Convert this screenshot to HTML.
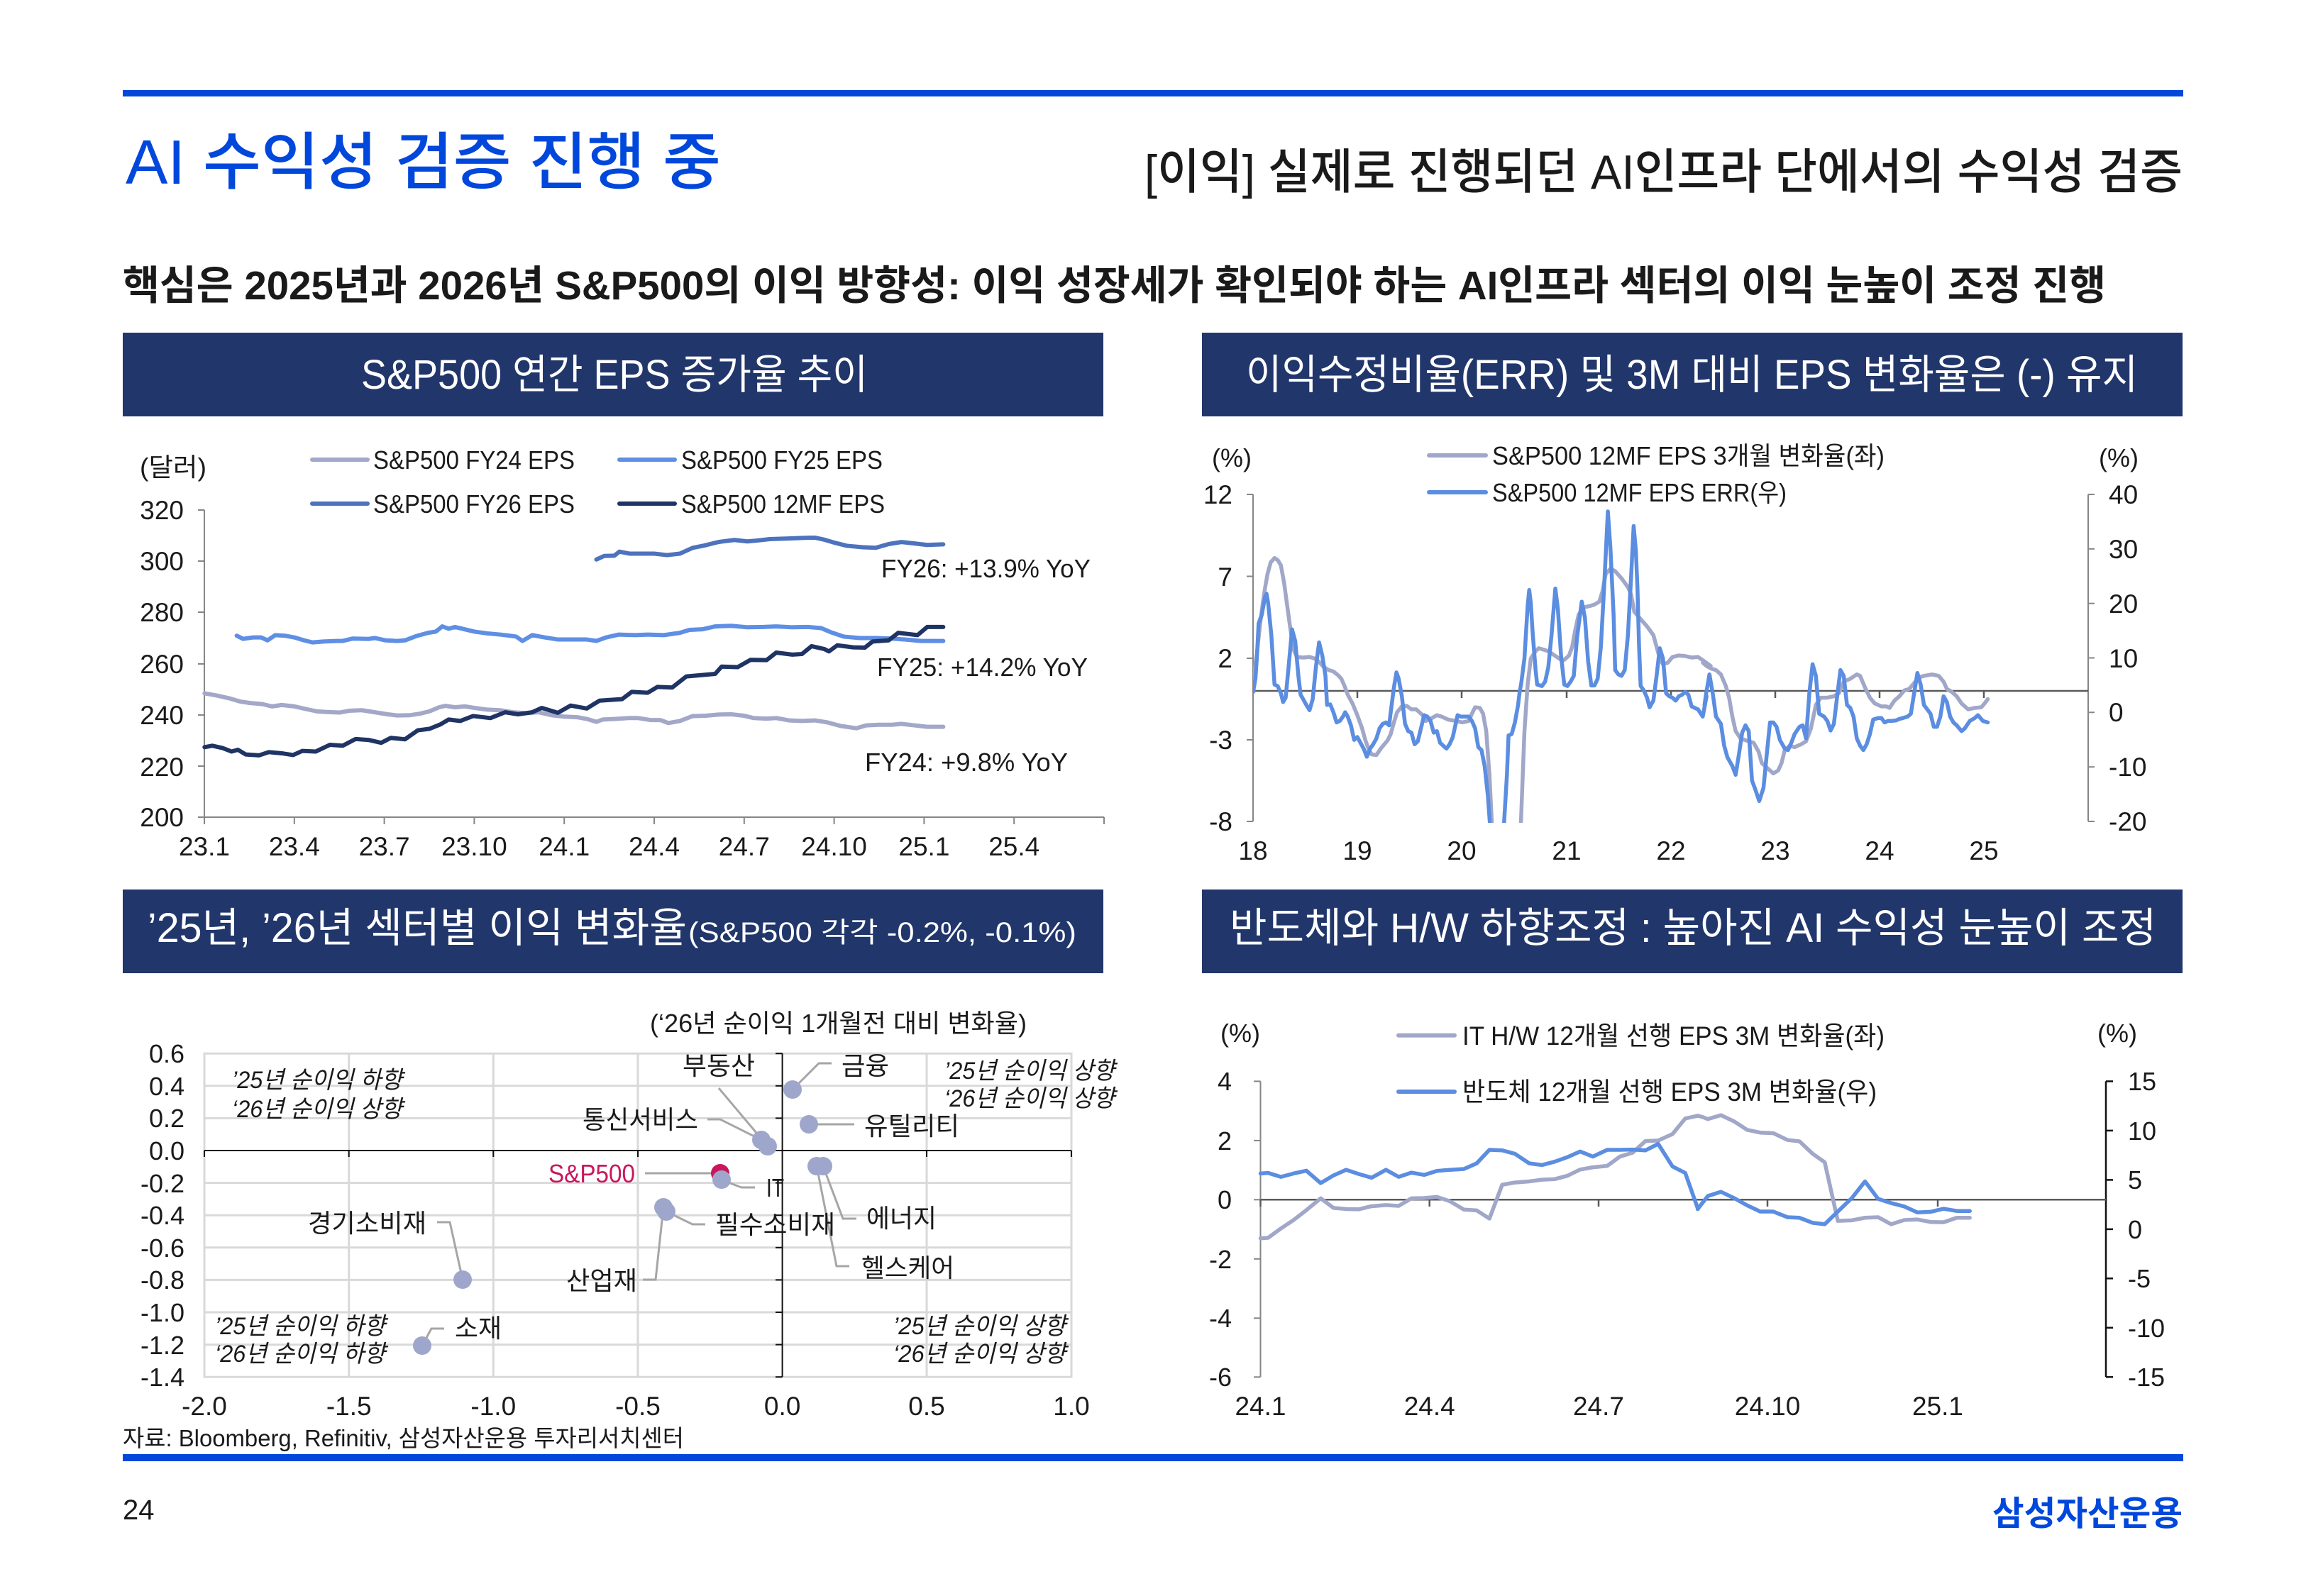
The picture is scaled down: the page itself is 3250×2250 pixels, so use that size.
<!DOCTYPE html>
<html><head><meta charset="utf-8">
<style>
html,body{margin:0;padding:0;background:#fff;}
svg{display:block;}
text{font-family:"Liberation Sans","Noto Sans CJK KR",sans-serif;fill:#1a1a1a;}
.w{fill:#fff;}
.t37{font-size:37px;}
.t36{font-size:36px;}
.ser{fill:none;stroke-linejoin:round;stroke-linecap:round;}
</style></head>
<body>
<svg width="3250" height="2250" viewBox="0 0 3250 2250" xmlns="http://www.w3.org/2000/svg">
<rect x="0" y="0" width="3250" height="2250" fill="#fff"/>
<defs>
<clipPath id="c1"><rect x="1766" y="660" width="1180" height="500"/></clipPath>
</defs>

<!-- Header -->
<rect x="173" y="127" width="2904" height="9" fill="#0047dc"/>
<text x="177" y="259" font-size="88" font-weight="500" style="fill:#0047dc" textLength="839" lengthAdjust="spacingAndGlyphs">AI 수익성 검증 진행 중</text>
<text x="1613" y="266" font-size="68" font-weight="500" textLength="1463" lengthAdjust="spacingAndGlyphs">[이익] 실제로 진행되던 AI인프라 단에서의 수익성 검증</text>
<text x="173" y="422" font-size="57" font-weight="bold" textLength="2795" lengthAdjust="spacingAndGlyphs">핵심은 2025년과 2026년 S&amp;P500의 이익 방향성: 이익 성장세가 확인되야 하는 AI인프라 섹터의 이익 눈높이 조정 진행</text>

<!-- Section header boxes -->
<rect x="173" y="469" width="1382" height="118" fill="#21366b"/>
<text class="w" x="509" y="548" font-size="58" textLength="714" lengthAdjust="spacingAndGlyphs">S&amp;P500 연간 EPS 증가율 추이</text>
<rect x="1694" y="469" width="1382" height="118" fill="#21366b"/>
<text class="w" x="1756" y="548" font-size="58" textLength="1257" lengthAdjust="spacingAndGlyphs">이익수정비율(ERR) 및 3M 대비 EPS 변화율은 (-) 유지</text>
<rect x="173" y="1254" width="1382" height="118" fill="#21366b"/>
<text class="w" x="208" y="1328" font-size="58" textLength="760" lengthAdjust="spacingAndGlyphs">’25년, ’26년 섹터별 이익 변화율</text>
<text class="w" x="970" y="1328" font-size="40" textLength="547" lengthAdjust="spacingAndGlyphs">(S&amp;P500 각각 -0.2%, -0.1%)</text>
<rect x="1694" y="1254" width="1382" height="118" fill="#21366b"/>
<text class="w" x="1733" y="1328" font-size="58" textLength="1306" lengthAdjust="spacingAndGlyphs">반도체와 H/W 하향조정 : 높아진 AI 수익성 눈높이 조정</text>

<!-- ================= Top-left chart ================= -->
<text class="t36" x="197" y="671" textLength="94" lengthAdjust="spacingAndGlyphs">(달러)</text>
<g class="t37" text-anchor="end">
<text x="259" y="732">320</text>
<text x="259" y="804">300</text>
<text x="259" y="876">280</text>
<text x="259" y="949">260</text>
<text x="259" y="1021">240</text>
<text x="259" y="1094">220</text>
<text x="259" y="1165">200</text>
</g>
<g stroke="#868686" stroke-width="2">
<line x1="288" y1="719" x2="288" y2="1152"/>
<line x1="288" y1="1152" x2="1556" y2="1152"/>
<line x1="279" y1="719" x2="288" y2="719"/>
<line x1="279" y1="791" x2="288" y2="791"/>
<line x1="279" y1="863" x2="288" y2="863"/>
<line x1="279" y1="936" x2="288" y2="936"/>
<line x1="279" y1="1008" x2="288" y2="1008"/>
<line x1="279" y1="1080" x2="288" y2="1080"/>
<line x1="279" y1="1152" x2="288" y2="1152"/>
<line x1="288" y1="1152" x2="288" y2="1162"/>
<line x1="414.8" y1="1152" x2="414.8" y2="1162"/>
<line x1="541.6" y1="1152" x2="541.6" y2="1162"/>
<line x1="668.4" y1="1152" x2="668.4" y2="1162"/>
<line x1="795.2" y1="1152" x2="795.2" y2="1162"/>
<line x1="922" y1="1152" x2="922" y2="1162"/>
<line x1="1048.8" y1="1152" x2="1048.8" y2="1162"/>
<line x1="1175.6" y1="1152" x2="1175.6" y2="1162"/>
<line x1="1302.4" y1="1152" x2="1302.4" y2="1162"/>
<line x1="1429.2" y1="1152" x2="1429.2" y2="1162"/>
<line x1="1556" y1="1152" x2="1556" y2="1162"/>
</g>
<g class="t37" text-anchor="middle">
<text x="288" y="1206">23.1</text>
<text x="414.8" y="1206">23.4</text>
<text x="541.6" y="1206">23.7</text>
<text x="668.4" y="1206">23.10</text>
<text x="795.2" y="1206">24.1</text>
<text x="922" y="1206">24.4</text>
<text x="1048.8" y="1206">24.7</text>
<text x="1175.6" y="1206">24.10</text>
<text x="1302.4" y="1206">25.1</text>
<text x="1429.2" y="1206">25.4</text>
</g>
<!-- legend -->
<g stroke-width="6" stroke-linecap="round">
<line x1="440" y1="648" x2="518" y2="648" stroke="#a3a8c9"/>
<line x1="873" y1="648" x2="951" y2="648" stroke="#5e8fe4"/>
<line x1="440" y1="710" x2="518" y2="710" stroke="#4d72be"/>
<line x1="873" y1="710" x2="951" y2="710" stroke="#1f3464"/>
</g>
<g class="t36">
<text x="526" y="661" textLength="284" lengthAdjust="spacingAndGlyphs">S&amp;P500 FY24 EPS</text>
<text x="960" y="661" textLength="284" lengthAdjust="spacingAndGlyphs">S&amp;P500 FY25 EPS</text>
<text x="526" y="723" textLength="284" lengthAdjust="spacingAndGlyphs">S&amp;P500 FY26 EPS</text>
<text x="960" y="723" textLength="287" lengthAdjust="spacingAndGlyphs">S&amp;P500 12MF EPS</text>
<text x="1242" y="814" textLength="295" lengthAdjust="spacingAndGlyphs">FY26: +13.9% YoY</text>
<text x="1236" y="953" textLength="297" lengthAdjust="spacingAndGlyphs">FY25: +14.2% YoY</text>
<text x="1219" y="1087" textLength="286" lengthAdjust="spacingAndGlyphs">FY24: +9.8% YoY</text>
</g>
<g transform="translate(170.65,600) scale(0.90524,0.41026)">
<polyline class="ser" vector-effect="non-scaling-stroke" stroke="#a3a8c9" stroke-width="6" points="130,920 150,928 170,938 185,948 200,953 220,957 235,965 250,960 270,965 290,975 305,982 320,984 340,986 355,980 375,978 395,985 415,992 430,996 450,995 465,990 480,982 495,968 505,963 520,968 535,965 550,970 570,976 590,978 610,985 630,988 650,985 670,995 690,1000 710,1002 725,1008 740,1018 750,1010 770,1008 790,1005 805,1005 825,1012 840,1012 852,1022 870,1015 890,998 910,997 930,993 950,992 970,997 985,1005 1005,1007 1020,1005 1040,1013 1060,1015 1080,1013 1100,1020 1120,1032 1145,1040 1160,1030 1180,1028 1200,1028 1215,1025 1235,1030 1255,1035 1280,1035"/>
<polyline class="ser" vector-effect="non-scaling-stroke" stroke="#5e8fe4" stroke-width="6" points="180,722 190,733 205,728 218,728 228,738 240,720 255,722 270,728 285,738 298,745 315,742 335,740 345,740 360,732 385,733 395,730 412,738 430,740 442,738 460,723 478,712 490,708 500,690 510,698 520,692 535,700 550,708 570,714 590,718 605,722 615,725 625,740 640,720 660,728 680,735 700,735 725,735 740,740 755,728 775,718 800,720 820,718 845,720 870,712 885,702 905,700 925,690 950,688 975,693 1000,692 1020,690 1045,693 1070,692 1090,696 1105,710 1125,725 1150,730 1175,730 1200,732 1220,735 1245,740 1280,740"/>
<polyline class="ser" vector-effect="non-scaling-stroke" stroke="#4d72be" stroke-width="6" points="740,460 752,448 768,447 776,433 792,440 810,440 830,440 850,445 870,440 890,420 908,412 930,400 955,393 975,398 990,395 1010,390 1040,388 1060,386 1080,385 1095,392 1110,402 1130,413 1155,418 1175,420 1195,407 1215,400 1235,405 1255,410 1280,408"/>
<polyline class="ser" vector-effect="non-scaling-stroke" stroke="#1f3464" stroke-width="6" points="130,1105 142,1100 158,1108 172,1120 182,1114 194,1130 215,1133 230,1122 250,1126 268,1132 282,1118 303,1120 325,1097 345,1100 365,1077 385,1080 405,1090 420,1073 442,1078 462,1047 480,1042 497,1027 510,1010 528,1015 548,998 575,1005 598,985 618,992 640,985 655,970 680,987 700,962 725,972 745,945 765,942 780,940 795,915 820,918 835,898 858,900 880,862 905,857 925,853 935,828 960,830 980,805 1005,806 1020,780 1045,787 1060,785 1075,758 1095,768 1102,776 1115,755 1140,762 1158,763 1170,742 1195,738 1210,712 1240,720 1255,692 1280,692"/>
</g>

<!-- ================= Top-right chart ================= -->
<text class="t36" x="1708" y="658">(%)</text>
<text class="t36" x="2958" y="658">(%)</text>
<g class="t37" text-anchor="end">
<text x="1737" y="710">12</text>
<text x="1737" y="826">7</text>
<text x="1737" y="941">2</text>
<text x="1737" y="1056">-3</text>
<text x="1737" y="1171">-8</text>
</g>
<g class="t37">
<text x="2972" y="710">40</text>
<text x="2972" y="787">30</text>
<text x="2972" y="864">20</text>
<text x="2972" y="941">10</text>
<text x="2972" y="1017">0</text>
<text x="2972" y="1094">-10</text>
<text x="2972" y="1171">-20</text>
</g>
<g stroke="#868686" stroke-width="2">
<line x1="1766" y1="697" x2="1766" y2="1158"/>
<line x1="1757" y1="697" x2="1766" y2="697"/>
<line x1="1757" y1="812.5" x2="1766" y2="812.5"/>
<line x1="1757" y1="928" x2="1766" y2="928"/>
<line x1="1757" y1="1043" x2="1766" y2="1043"/>
<line x1="1757" y1="1158" x2="1766" y2="1158"/>
<line x1="2943" y1="697" x2="2943" y2="1158"/>
<line x1="2943" y1="697" x2="2952" y2="697"/>
<line x1="2943" y1="773.8" x2="2952" y2="773.8"/>
<line x1="2943" y1="850.7" x2="2952" y2="850.7"/>
<line x1="2943" y1="927.5" x2="2952" y2="927.5"/>
<line x1="2943" y1="1004.3" x2="2952" y2="1004.3"/>
<line x1="2943" y1="1081.2" x2="2952" y2="1081.2"/>
<line x1="2943" y1="1158" x2="2952" y2="1158"/>
</g>
<g stroke="#5a5a5a" stroke-width="2.5">
<line x1="1766" y1="974" x2="2943" y2="974"/>
<line x1="1913" y1="974" x2="1913" y2="984"/>
<line x1="2060" y1="974" x2="2060" y2="984"/>
<line x1="2208" y1="974" x2="2208" y2="984"/>
<line x1="2355" y1="974" x2="2355" y2="984"/>
<line x1="2502" y1="974" x2="2502" y2="984"/>
<line x1="2649" y1="974" x2="2649" y2="984"/>
<line x1="2796" y1="974" x2="2796" y2="984"/>
</g>
<g class="t37" text-anchor="middle">
<text x="1766" y="1212">18</text>
<text x="1913" y="1212">19</text>
<text x="2060" y="1212">20</text>
<text x="2208" y="1212">21</text>
<text x="2355" y="1212">22</text>
<text x="2502" y="1212">23</text>
<text x="2649" y="1212">24</text>
<text x="2796" y="1212">25</text>
</g>
<g stroke-width="6" stroke-linecap="round">
<line x1="2014" y1="642" x2="2094" y2="642" stroke="#a1a7c8"/>
<line x1="2014" y1="694" x2="2094" y2="694" stroke="#5b8de1"/>
</g>
<text class="t36" x="2103" y="655" textLength="553" lengthAdjust="spacingAndGlyphs">S&amp;P500 12MF EPS 3개월 변화율(좌)</text>
<text class="t36" x="2103" y="707" textLength="415" lengthAdjust="spacingAndGlyphs">S&amp;P500 12MF EPS ERR(우)</text>
<g clip-path="url(#c1)">
<g transform="translate(1711,600) scale(0.44872,0.41026)">
<polyline class="ser" vector-effect="non-scaling-stroke" stroke="#a1a7c8" stroke-width="5.5" points="123,880 135,780 145,680 152,620 160,560 168,510 178,470 190,455 200,462 210,480 220,540 230,620 240,700 250,770 260,795 280,797 300,795 315,800 330,812 345,830 360,840 375,845 390,858 400,870 410,895 420,925 435,955 450,995 465,1040 475,1080 485,1110 495,1130 510,1132 525,1108 545,1082 555,1060 565,1020 575,985 590,965 605,963 620,975 635,975 655,995 665,1015 680,1008 700,995 715,1000 735,1010 760,1015 780,1020 800,1015 810,990 820,968 835,970 845,990 855,1050 865,1200 875,1420"/>
<polyline class="ser" vector-effect="non-scaling-stroke" stroke="#a1a7c8" stroke-width="5.5" points="962,1420 975,1050 985,890 995,800 1010,775 1020,765 1035,770 1050,775 1070,790 1090,805 1100,805 1115,790 1125,760 1135,700 1145,650 1160,625 1180,620 1195,615 1210,605 1220,570 1230,510 1245,492 1260,500 1280,525 1300,555 1310,580 1320,640 1340,665 1360,690 1380,720 1390,760 1400,800 1410,820 1425,815 1440,795 1460,790 1480,792 1500,797 1520,795 1540,810 1560,826"/>
<polyline class="ser" vector-effect="non-scaling-stroke" stroke="#5b8de1" stroke-width="5.5" points="123,915 130,870 135,790 140,680 150,650 160,590 165,578 170,610 180,720 190,890 200,895 210,920 217,950 225,935 235,820 245,700 255,740 265,860 272,925 280,940 290,960 300,978 310,940 320,830 330,745 340,790 350,860 355,960 365,958 375,985 385,1020 395,1015 405,1000 412,985 420,1000 430,1030 440,1080 450,1070 460,1090 470,1110 480,1138 490,1110 500,1095 510,1075 520,1040 530,1025 540,1020 550,1030 555,985 565,900 573,848 580,870 590,930 600,1025 610,1050 620,1055 630,1095 640,1085 650,1040 660,995 670,1000 680,1015 690,1055 700,1050 710,1090 720,1100 730,1110 740,1095 750,1070 760,1020 765,995 775,1000 790,1000 800,1000 810,1015 820,1040 830,1105 840,1115 850,1170 860,1270 870,1420"/>
<polyline class="ser" vector-effect="non-scaling-stroke" stroke="#5b8de1" stroke-width="5.5" points="908,1420 920,1200 925,1065 935,1060 945,1020 955,960 960,915 965,885 975,800 985,620 990,565 995,610 1000,700 1010,840 1015,890 1030,895 1040,880 1050,830 1060,720 1072,560 1080,630 1090,790 1100,890 1110,895 1120,880 1130,860 1140,730 1155,605 1165,660 1175,810 1185,893 1195,893 1205,870 1215,760 1225,560 1237,295 1245,420 1255,650 1260,840 1270,855 1280,860 1290,840 1300,720 1310,520 1318,345 1325,430 1330,560 1335,760 1340,895 1350,910 1360,935 1368,968 1380,945 1390,860 1400,765 1410,800 1420,920 1430,930 1440,935 1450,945 1460,930 1470,925 1480,915 1490,925 1500,965 1510,970 1520,975 1535,1000 1547,930"/>
</g>
<g transform="translate(2400,600) scale(0.46154,0.41026)">
<polyline class="ser" vector-effect="non-scaling-stroke" stroke="#a1a7c8" stroke-width="5.5" points="0,815 10,825 25,835 40,840 55,855 70,895 80,935 90,1000 100,1050 115,1075 135,1083 155,1090 170,1120 180,1160 195,1175 215,1195 230,1185 240,1160 250,1115 265,1100 280,1105 300,1095 315,1085 330,1040 345,960 360,935 380,935 400,930 415,920 430,880 450,870 470,855 480,860 495,900 510,935 525,955 545,965 560,965 570,970 585,945 600,930 615,910 630,905 645,885 660,865 675,860 700,855 720,860 735,880 745,905 760,915 775,930 790,955 810,975 830,970 850,968 860,955 870,940"/>
<polyline class="ser" vector-effect="non-scaling-stroke" stroke="#5b8de1" stroke-width="5.5" points="5,960 10,920 20,855 30,920 40,1000 55,1025 65,1100 75,1140 90,1170 100,1200 110,1130 120,1055 130,1030 140,1050 150,1220 160,1250 172,1290 185,1245 195,1130 205,1020 215,1020 225,1035 235,1080 250,1110 260,1115 270,1090 280,1060 295,1035 305,1030 315,1075 325,920 335,820 345,860 355,990 370,1000 380,1015 390,1048 400,1025 410,930 420,840 430,860 440,960 450,970 460,1000 470,1075 480,1100 490,1115 500,1095 510,1060 520,1010 535,1005 545,1005 555,1020 565,1015 575,1015 590,1013 600,1008 610,1005 625,1000 635,990 645,920 655,850 665,890 675,960 685,975 695,990 705,1035 715,1035 725,1000 735,930 745,950 755,1000 765,1020 775,1030 790,1050 800,1040 815,1015 830,1005 840,995 855,1015 870,1020"/>
</g>
</g>

<!-- ================= Bottom-left scatter ================= -->
<g transform="translate(-4,-1)">
<text class="t36" x="920" y="1456" font-size="34" textLength="531" lengthAdjust="spacingAndGlyphs">(‘26년 순이익 1개월전 대비 변화율)</text>
<g stroke="#d9d9d9" stroke-width="3" fill="none">
<rect x="292" y="1486.2" width="1222" height="456"/>
<line x1="292" y1="1531.8" x2="1514" y2="1531.8"/>
<line x1="292" y1="1577.4" x2="1514" y2="1577.4"/>
<line x1="292" y1="1668.6" x2="1514" y2="1668.6"/>
<line x1="292" y1="1714.2" x2="1514" y2="1714.2"/>
<line x1="292" y1="1759.8" x2="1514" y2="1759.8"/>
<line x1="292" y1="1805.4" x2="1514" y2="1805.4"/>
<line x1="292" y1="1851" x2="1514" y2="1851"/>
<line x1="292" y1="1896.6" x2="1514" y2="1896.6"/>
<line x1="495.7" y1="1486" x2="495.7" y2="1942"/>
<line x1="699.3" y1="1486" x2="699.3" y2="1942"/>
<line x1="903" y1="1486" x2="903" y2="1942"/>
<line x1="1310" y1="1486" x2="1310" y2="1942"/>
</g>
<g stroke="#111" stroke-width="2">
<line x1="292" y1="1623" x2="1514" y2="1623"/>
<line x1="1106.6" y1="1486" x2="1106.6" y2="1942"/>
<line x1="292" y1="1623" x2="292" y2="1632"/>
<line x1="495.7" y1="1623" x2="495.7" y2="1632"/>
<line x1="699.3" y1="1623" x2="699.3" y2="1632"/>
<line x1="903" y1="1623" x2="903" y2="1632"/>
<line x1="1310" y1="1623" x2="1310" y2="1632"/>
<line x1="1514" y1="1623" x2="1514" y2="1632"/>
<line x1="1097" y1="1486.2" x2="1106.6" y2="1486.2"/>
<line x1="1097" y1="1531.8" x2="1106.6" y2="1531.8"/>
<line x1="1097" y1="1577.4" x2="1106.6" y2="1577.4"/>
<line x1="1097" y1="1668.6" x2="1106.6" y2="1668.6"/>
<line x1="1097" y1="1714.2" x2="1106.6" y2="1714.2"/>
<line x1="1097" y1="1759.8" x2="1106.6" y2="1759.8"/>
<line x1="1097" y1="1805.4" x2="1106.6" y2="1805.4"/>
<line x1="1097" y1="1851" x2="1106.6" y2="1851"/>
<line x1="1097" y1="1896.6" x2="1106.6" y2="1896.6"/>
<line x1="1097" y1="1942.2" x2="1106.6" y2="1942.2"/>
</g>
<g class="t36" text-anchor="end">
<text x="264" y="1499">0.6</text>
<text x="264" y="1545">0.4</text>
<text x="264" y="1590">0.2</text>
<text x="264" y="1636">0.0</text>
<text x="264" y="1682">-0.2</text>
<text x="264" y="1727">-0.4</text>
<text x="264" y="1773">-0.6</text>
<text x="264" y="1818">-0.8</text>
<text x="264" y="1864">-1.0</text>
<text x="264" y="1910">-1.2</text>
<text x="264" y="1955">-1.4</text>
</g>
<g class="t37" text-anchor="middle">
<text x="292" y="1996">-2.0</text>
<text x="495.7" y="1996">-1.5</text>
<text x="699.3" y="1996">-1.0</text>
<text x="903" y="1996">-0.5</text>
<text x="1106.6" y="1996">0.0</text>
<text x="1310" y="1996">0.5</text>
<text x="1514" y="1996">1.0</text>
</g>
<!-- quadrant notes -->
<g font-size="34" font-style="italic">
<text x="331" y="1535" textLength="240" lengthAdjust="spacingAndGlyphs">’25년 순이익 하향</text>
<text x="331" y="1576" textLength="240" lengthAdjust="spacingAndGlyphs">‘26년 순이익 상향</text>
<text x="307" y="1882" textLength="240" lengthAdjust="spacingAndGlyphs">’25년 순이익 하향</text>
<text x="307" y="1921" textLength="240" lengthAdjust="spacingAndGlyphs">‘26년 순이익 하향</text>
<text x="1335" y="1522" textLength="240" lengthAdjust="spacingAndGlyphs">’25년 순이익 상향</text>
<text x="1335" y="1561" textLength="240" lengthAdjust="spacingAndGlyphs">‘26년 순이익 상향</text>
<text x="1263" y="1882" textLength="243" lengthAdjust="spacingAndGlyphs">’25년 순이익 상향</text>
<text x="1263" y="1921" textLength="243" lengthAdjust="spacingAndGlyphs">‘26년 순이익 상향</text>
</g>
<!-- leaders -->
<g stroke="#a6a6a6" stroke-width="3" fill="none">
<polyline points="620,1724 638,1724 656,1805"/>
<polyline points="630,1874 612,1874 599,1898"/>
<polyline points="910,1805 928,1805 939,1703"/>
<polyline points="1001,1579 1019,1579 1077,1608"/>
<polyline points="1017,1535 1086,1617"/>
<polyline points="1176,1500 1158,1500 1121,1537"/>
<polyline points="1144,1586 1208,1586"/>
<polyline points="913,1655 1019,1655"/>
<polyline points="1020,1664 1049,1675 1068,1675"/>
<polyline points="943,1709 980,1727 998,1727"/>
<polyline points="1164,1645 1192,1719 1211,1719"/>
<polyline points="1155,1645 1183,1786 1201,1786"/>
</g>
<!-- dots -->
<circle cx="1019" cy="1655" r="13" fill="#c8175d"/>
<g fill="#9ea7cb">
<circle cx="1121" cy="1537" r="13"/>
<circle cx="1144" cy="1586" r="13"/>
<circle cx="1077" cy="1608" r="13"/>
<circle cx="1086" cy="1617" r="13"/>
<circle cx="1021" cy="1664" r="13"/>
<circle cx="1155" cy="1645" r="13"/>
<circle cx="1164" cy="1645" r="13"/>
<circle cx="939" cy="1703" r="13"/>
<circle cx="943" cy="1709" r="13"/>
<circle cx="656" cy="1805" r="13"/>
<circle cx="599" cy="1898" r="13"/>
</g>
<g class="t36">
<text x="438" y="1738" textLength="167" lengthAdjust="spacingAndGlyphs">경기소비재</text>
<text x="645" y="1886" textLength="66" lengthAdjust="spacingAndGlyphs">소재</text>
<text x="802" y="1819" textLength="100" lengthAdjust="spacingAndGlyphs">산업재</text>
<text x="825" y="1592" textLength="163" lengthAdjust="spacingAndGlyphs">통신서비스</text>
<text x="966" y="1516" textLength="102" lengthAdjust="spacingAndGlyphs">부동산</text>
<text x="1190" y="1516" textLength="67" lengthAdjust="spacingAndGlyphs">금융</text>
<text x="1222" y="1601" textLength="134" lengthAdjust="spacingAndGlyphs">유틸리티</text>
<text x="777" y="1668" textLength="122" lengthAdjust="spacingAndGlyphs" style="fill:#c8175d">S&amp;P500</text>
<text x="1084" y="1688" textLength="25" lengthAdjust="spacingAndGlyphs">IT</text>
<text x="1012" y="1740" textLength="169" lengthAdjust="spacingAndGlyphs">필수소비재</text>
<text x="1225" y="1731" textLength="99" lengthAdjust="spacingAndGlyphs">에너지</text>
<text x="1218" y="1801" textLength="131" lengthAdjust="spacingAndGlyphs">헬스케어</text>
</g>
</g>

<!-- ================= Bottom-right chart ================= -->
<text class="t36" x="1720" y="1469">(%)</text>
<text class="t36" x="2956" y="1469">(%)</text>
<g class="t36" text-anchor="end">
<text x="1736" y="1537">4</text>
<text x="1736" y="1621">2</text>
<text x="1736" y="1704">0</text>
<text x="1736" y="1788">-2</text>
<text x="1736" y="1871">-4</text>
<text x="1736" y="1954">-6</text>
</g>
<g class="t36">
<text x="2999" y="1537">15</text>
<text x="2999" y="1607">10</text>
<text x="2999" y="1676">5</text>
<text x="2999" y="1746">0</text>
<text x="2999" y="1815">-5</text>
<text x="2999" y="1885">-10</text>
<text x="2999" y="1954">-15</text>
</g>
<g stroke="#868686" stroke-width="2">
<line x1="1776.5" y1="1524.4" x2="1776.5" y2="1941.3"/>
<line x1="1767" y1="1524.4" x2="1776.5" y2="1524.4"/>
<line x1="1767" y1="1607.9" x2="1776.5" y2="1607.9"/>
<line x1="1767" y1="1691.3" x2="1776.5" y2="1691.3"/>
<line x1="1767" y1="1774.8" x2="1776.5" y2="1774.8"/>
<line x1="1767" y1="1858.3" x2="1776.5" y2="1858.3"/>
<line x1="1767" y1="1941.3" x2="1776.5" y2="1941.3"/>
</g>
<g stroke="#111" stroke-width="2.5">
<line x1="2968" y1="1524.4" x2="2968" y2="1941.3"/>
<line x1="2968" y1="1524.4" x2="2978" y2="1524.4"/>
<line x1="2968" y1="1593.9" x2="2978" y2="1593.9"/>
<line x1="2968" y1="1663.4" x2="2978" y2="1663.4"/>
<line x1="2968" y1="1732.9" x2="2978" y2="1732.9"/>
<line x1="2968" y1="1802.3" x2="2978" y2="1802.3"/>
<line x1="2968" y1="1871.8" x2="2978" y2="1871.8"/>
<line x1="2968" y1="1941.3" x2="2978" y2="1941.3"/>
</g>
<g stroke="#5a5a5a" stroke-width="2.5">
<line x1="1776.5" y1="1691.3" x2="2968" y2="1691.3"/>
<line x1="1776.5" y1="1691.3" x2="1776.5" y2="1701"/>
<line x1="2014.7" y1="1691.3" x2="2014.7" y2="1701"/>
<line x1="2253" y1="1691.3" x2="2253" y2="1701"/>
<line x1="2491" y1="1691.3" x2="2491" y2="1701"/>
<line x1="2731" y1="1691.3" x2="2731" y2="1701"/>
</g>
<g class="t37" text-anchor="middle">
<text x="1776.5" y="1995">24.1</text>
<text x="2014.7" y="1995">24.4</text>
<text x="2253" y="1995">24.7</text>
<text x="2491" y="1995">24.10</text>
<text x="2731" y="1995">25.1</text>
</g>
<g stroke-width="6" stroke-linecap="round">
<line x1="1971" y1="1459.6" x2="2050" y2="1459.6" stroke="#a1a7c8"/>
<line x1="1971" y1="1539" x2="2050" y2="1539" stroke="#5b8de1"/>
</g>
<text x="2061" y="1473" font-size="37" textLength="595" lengthAdjust="spacingAndGlyphs">IT H/W 12개월 선행 EPS 3M 변화율(좌)</text>
<text x="2061" y="1552" font-size="37" textLength="584" lengthAdjust="spacingAndGlyphs">반도체 12개월 선행 EPS 3M 변화율(우)</text>
<g transform="translate(1711,1400) scale(0.44872,0.39744)">
<polyline class="ser" vector-effect="non-scaling-stroke" stroke="#a1a7c8" stroke-width="5.5" points="146,870 170,868 210,835 250,805 290,770 335,728 375,762 415,766 455,767 495,756 540,752 580,755 620,728 660,727 700,723 740,738 785,768 825,771 865,800 905,680 945,672 990,668 1030,662 1070,660 1110,648 1150,626 1190,618 1235,613 1275,580 1315,566 1355,525 1395,523 1440,500 1480,445 1520,435"/>
<polyline class="ser" vector-effect="non-scaling-stroke" stroke="#5b8de1" stroke-width="5.5" points="146,640 170,638 210,652 250,640 290,630 335,674 375,647 415,627 455,642 495,655 540,627 580,652 620,637 660,645 700,631 740,627 785,624 825,604 865,556 905,558 945,570 990,604 1030,610 1070,598 1110,582 1150,562 1190,580 1235,556 1275,556 1315,555 1355,558 1395,535 1440,615 1480,638 1520,766"/>
</g>
<g transform="translate(2400,1400) scale(0.46154,0.39744)">
<polyline class="ser" vector-effect="non-scaling-stroke" stroke="#a1a7c8" stroke-width="5.5" points="-16,435 0,440 15,447 55,433 95,455 135,485 175,495 215,497 258,521 295,526 335,570 372,600 412,808 455,806 495,797 535,795 575,820 615,805 655,803 695,812 735,813 775,797 815,797"/>
<polyline class="ser" vector-effect="non-scaling-stroke" stroke="#5b8de1" stroke-width="5.5" points="-16,766 15,720 55,705 95,727 135,753 175,775 215,775 258,795 295,797 335,815 372,820 412,775 455,727 495,668 535,730 575,745 615,757 655,778 695,776 735,765 775,773 815,773"/>
</g>

<!-- Footer -->
<text x="173" y="2039" font-size="33" textLength="791" lengthAdjust="spacingAndGlyphs">자료: Bloomberg, Refinitiv, 삼성자산운용 투자리서치센터</text>
<rect x="173" y="2050" width="2904" height="10" fill="#0047dc"/>
<text x="173" y="2142" font-size="40">24</text>
<text x="2808" y="2150" font-size="48" font-weight="bold" style="fill:#0047dc" textLength="268" lengthAdjust="spacingAndGlyphs">삼성자산운용</text>
</svg>
</body></html>
